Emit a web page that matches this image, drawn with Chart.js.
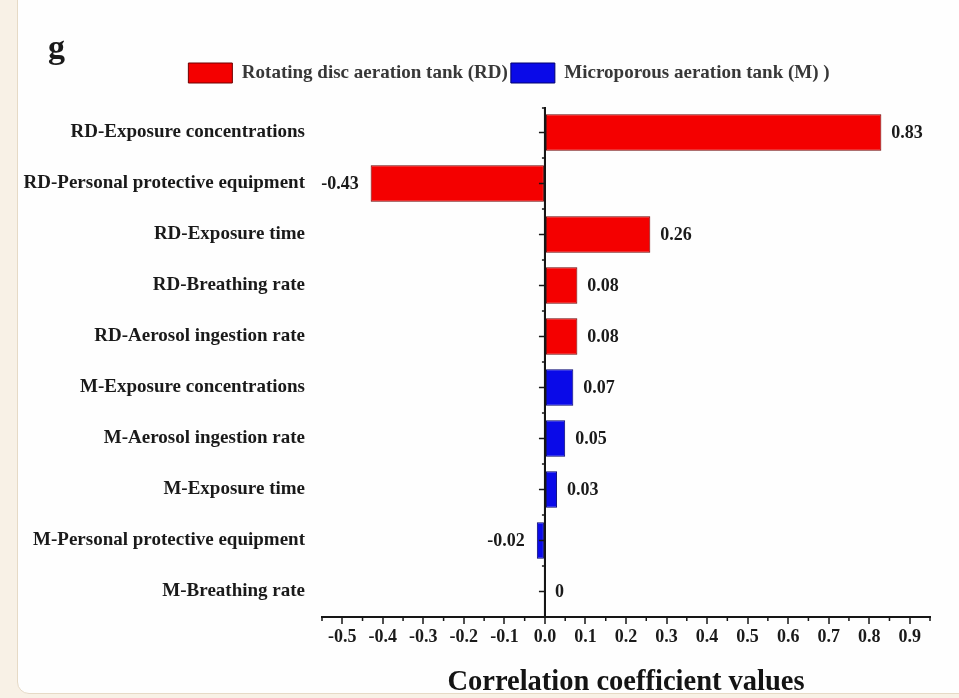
<!DOCTYPE html>
<html>
<head>
<meta charset="utf-8">
<script src="https://cdn.jsdelivr.net/npm/chart.js@4/dist/chart.umd.min.js"></script>
<style>
  html, body { margin: 0; padding: 0; background: #f8f1e6; overflow: hidden; }
  .card {
    position: absolute; left: 17px; top: -12px; width: 960px; height: 704px;
    background: #fefefe; border: 1px solid #e6dac6; border-radius: 12px;
  }
  canvas { position: absolute; left: 0; top: 0; }
</style>
</head>
<body>
<div class="card"></div>
<canvas id="chart" width="959" height="698"></canvas>
<script>
// Factors, listed top to bottom
const categories = [
  'RD-Exposure concentrations',
  'RD-Personal protective equipment',
  'RD-Exposure time',
  'RD-Breathing rate',
  'RD-Aerosol ingestion rate',
  'M-Exposure concentrations',
  'M-Aerosol ingestion rate',
  'M-Exposure time',
  'M-Personal protective equipment',
  'M-Breathing rate'
];

const seriesNames = ['Rotating disc aeration tank (RD)', 'Microporous aeration tank (M) )'];

// Correlation coefficients per factor (null where the factor belongs to the other tank)
const rdValues = [0.83, -0.43, 0.26, 0.08, 0.08, null, null, null, null, null];
const mValues  = [null, null, null, null, null, 0.07, 0.05, 0.03, -0.02, 0];

// Labelled ticks of the value axis
const tickLabels = ['-0.5', '-0.4', '-0.3', '-0.2', '-0.1', '0.0', '0.1', '0.2',
                    '0.3', '0.4', '0.5', '0.6', '0.7', '0.8', '0.9'];

const axisTitle = 'Correlation coefficient values';
const panelLetter = 'g';

const SERIF = "'Liberation Serif', 'Times New Roman', serif";
const INK = '#1a1a1a';
const AXIS = '#161616';

Chart.defaults.font.family = SERIF;
Chart.defaults.font.weight = 'bold';
Chart.defaults.color = INK;

const tickValues = tickLabels.map(Number);
// unlabelled half-step ticks between (and just outside) the labelled ones
const minorTicks = tickValues.map(v => v - 0.05).concat([tickValues[tickValues.length - 1] + 0.05]);

const fmt = v => (v === 0 ? '0' : v.toFixed(2));

// Legend sits a little right of the page centre
const legendShift = {
  id: 'legendShift',
  afterLayout(chart) {
    if (chart.legend) chart.legend.left += 88;
  }
};

// Zero line with its ticks, half-step ticks on the value axis, value labels and panel letter
const axisExtras = {
  id: 'axisExtras',
  afterDatasetsDraw(chart) {
    const { ctx, chartArea, scales: { x, y } } = chart;
    const seg = (x1, y1, x2, y2) => { ctx.beginPath(); ctx.moveTo(x1, y1); ctx.lineTo(x2, y2); ctx.stroke(); };
    ctx.save();
    ctx.strokeStyle = AXIS;

    const x0 = x.getPixelForValue(0);
    ctx.lineWidth = 2;
    seg(x0, chartArea.top, x0, chartArea.bottom + 1);

    ctx.lineWidth = 1.5;
    const n = categories.length;
    for (let i = 0; i < n; i++) {
      const py = y.getPixelForValue(i);
      seg(x0 - 6, py, x0, py);
    }
    for (let i = 0; i <= n; i++) {
      let py;
      if (i === 0) py = chartArea.top + 1;
      else if (i === n) py = chartArea.bottom;
      else py = (y.getPixelForValue(i - 1) + y.getPixelForValue(i)) / 2;
      seg(x0 - 3, py, x0, py);
    }

    minorTicks.forEach(v => {
      const px = x.getPixelForValue(v);
      seg(px, chartArea.bottom, px, chartArea.bottom + 4);
    });

    // value labels at the end of each bar
    ctx.fillStyle = INK;
    ctx.font = 'bold 18px ' + SERIF;
    ctx.textBaseline = 'middle';
    chart.data.datasets.forEach((ds, di) => {
      const meta = chart.getDatasetMeta(di);
      ds.data.forEach((v, i) => {
        if (v === null) return;
        const bar = meta.data[i];
        if (v < 0) {
          ctx.textAlign = 'right';
          ctx.fillText(fmt(v), bar.x - 12, bar.y + 1);
        } else {
          ctx.textAlign = 'left';
          ctx.fillText(fmt(v), bar.x + 10, bar.y + 1);
        }
      });
    });

    ctx.font = 'bold 34px ' + SERIF;
    ctx.textAlign = 'left';
    ctx.textBaseline = 'alphabetic';
    ctx.fillText(panelLetter, 48, 58);
    ctx.restore();
  }
};

const barStyle = { grouped: false, categoryPercentage: 0.8, barPercentage: 0.9, borderWidth: 1, borderSkipped: false };

new Chart(document.getElementById('chart'), {
  type: 'bar',
  data: {
    labels: categories,
    datasets: [
      Object.assign({ label: seriesNames[0], data: rdValues, backgroundColor: '#f40000', borderColor: '#6e0000' }, barStyle),
      Object.assign({ label: seriesNames[1], data: mValues, backgroundColor: '#0a0ae8', borderColor: '#00006e' }, barStyle)
    ]
  },
  options: {
    indexAxis: 'y',
    responsive: false,
    animation: false,
    devicePixelRatio: 1,
    layout: { padding: { left: 0, right: 29, top: 60, bottom: 0 } },
    plugins: {
      legend: {
        position: 'top',
        align: 'center',
        labels: { boxWidth: 44, boxHeight: 20, padding: 3, color: '#383838', font: { size: 19, weight: 'bold' } }
      },
      tooltip: { enabled: false }
    },
    scales: {
      x: {
        type: 'linear',
        position: 'bottom',
        min: -0.55,
        max: 0.95,
        afterBuildTicks: s => { s.ticks = tickValues.map(v => ({ value: v })); },
        afterFit: s => { s.height = 81; },
        grid: {
          drawOnChartArea: true,
          color: c => (c.tick && c.tick.value === 0 ? AXIS : 'rgba(0,0,0,0)'),
          lineWidth: 2,
          drawTicks: true,
          tickLength: 7,
          tickColor: AXIS,
          tickWidth: 1.5
        },
        border: { display: true, color: AXIS, width: 2 },
        ticks: {
          callback: (v, i) => tickLabels[i],
          padding: 3,
          color: INK,
          font: { size: 18 },
          maxRotation: 0,
          autoSkip: false
        },
        title: {
          display: true,
          text: axisTitle,
          color: '#141414',
          font: { size: 28.5, lineHeight: 1 },
          padding: { top: 0, bottom: 1 }
        }
      },
      xTop: {
        type: 'linear',
        position: 'top',
        display: true,
        grid: { display: false },
        border: { display: false },
        ticks: { display: false },
        afterFit: s => { s.height = 14; }
      },
      y: {
        type: 'category',
        position: 'left',
        grid: { display: false, drawTicks: false },
        border: { display: false },
        ticks: { padding: 17, color: INK, font: { size: 19 }, autoSkip: false },
        afterFit: s => { s.width = 322; }
      }
    }
  },
  plugins: [legendShift, axisExtras]
});
</script>
</body>
</html>
